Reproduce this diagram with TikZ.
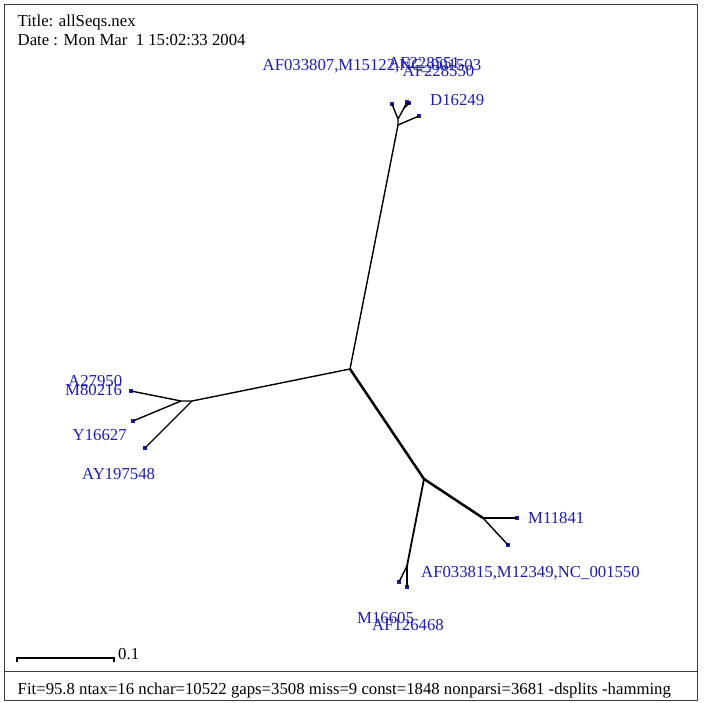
\documentclass[tikz,border=0pt]{standalone}
\usepackage{fontspec}
\setmainfont{Liberation Serif}
\definecolor{lblue}{RGB}{30,30,170}
\definecolor{frame}{RGB}{60,60,60}
\begin{document}
\begin{tikzpicture}[x=1bp,y=-1bp,
  edge/.style={line width=1.4bp,black},
  thick edge/.style={line width=2.5bp,black},
  leaf/.style={fill=lblue,inner sep=0pt,minimum size=3.5bp,draw=none},
  lbl/.style={anchor=base west,inner sep=0pt,text=lblue,font=\fontsize{16.8}{19}\selectfont},
  info/.style={anchor=base west,inner sep=0pt,text=black,font=\fontsize{16.8}{19}\selectfont}]
\useasboundingbox (0,0) rectangle (703,703);
\fill[white] (0,0) rectangle (703,703);
% frame
\draw[frame,line width=1bp] (4,5) rectangle (697,700);
\draw[frame,line width=1bp] (4,671) -- (697,671);
% header / footer
\node[info] (title) at (17.5,26.5) {Title: allSeqs.nex};
\node[info] (date) at (17.5,46) {Date : Mon Mar\ \ 1 15:02:33 2004};
\node[info] (fit) at (17.5,694) {Fit=95.8 ntax=16 nchar=10522 gaps=3508 miss=9 const=1848 nonparsi=3681 -dsplits -hamming};
% scale bar
\coordinate (sb1) at (17,658);
\coordinate (sb2) at (114,658);
\draw[line width=1.4bp] ([yshift=-4bp]sb1) -- (sb1) -- (sb2) -- ([yshift=-4bp]sb2);
\node[info] (sbl) at (118,659.5) {0.1};
% internal nodes
\coordinate (C) at (350,369);
\coordinate (T1) at (398,125);
\coordinate (T2) at (398,119);
\coordinate (T3) at (404,108);
\coordinate (L1) at (192,401);
\coordinate (L2) at (181,401);
\coordinate (BR) at (424,479);
\coordinate (BR2) at (483,518);
\coordinate (BR3) at (407,566);
% leaves
\node[leaf] (lD) at (419,116) {};
\node[leaf] (lA) at (392,104) {};
\node[leaf] (lB) at (407,102) {};
\node[leaf] (lB2) at (409.5,103) {};
\node[leaf] (lM8) at (131,391) {};
\node[leaf] (lY) at (133,421) {};
\node[leaf] (lAY) at (145,448) {};
\node[leaf] (lM11) at (517,518) {};
\node[leaf] (lAF3) at (508,545) {};
\node[leaf] (lM16) at (399,582) {};
\node[leaf] (lAF1) at (407,587) {};
% edges
\draw[edge] (C) -- (T1) -- (T2) -- (lA.center);
\draw[edge] (T1) -- (lD.center);
\draw[edge] (T2) -- (T3) -- (lB.center);
\draw[edge] (T3) -- (lB2.center);
\draw[edge] (C) -- (L1) -- (L2) -- (lM8.center);
\draw[edge] (L2) -- (lY.center);
\draw[edge] (L1) -- (lAY.center);
\draw[thick edge] (C) -- (BR) -- (BR2);
\draw[edge] (BR2) -- (lM11.center);
\draw[edge] (BR2) -- (lAF3.center);
\draw[edge,line width=1.8bp] (BR) -- (BR3);
\draw[edge] (BR3) -- (lM16.center);
\draw[edge] (BR3) -- (lAF1.center);
% labels
\node[lbl] (tA) at (262.5,71) {AF033807,M15122,NC\_001503};
\node[lbl] (tB) at (388,68.5) {AF228551};
\node[lbl] (tB2) at (402.5,77) {AF228550};
\node[lbl] (tD) at (430,106) {D16249};
\node[lbl] (tA2) at (68,386) {A27950};
\node[lbl] (tM8) at (65,395) {M80216};
\node[lbl] (tY) at (72.5,440) {Y16627};
\node[lbl] (tAY) at (82,479) {AY197548};
\node[lbl] (tM11) at (528,523.5) {M11841};
\node[lbl] (tAF3) at (421,577.5) {AF033815,M12349,NC\_001550};
\node[lbl] (tM16) at (357,623) {M16605};
\node[lbl] (tAF1) at (372,630.5) {AF126468};
\end{tikzpicture}
\end{document}
